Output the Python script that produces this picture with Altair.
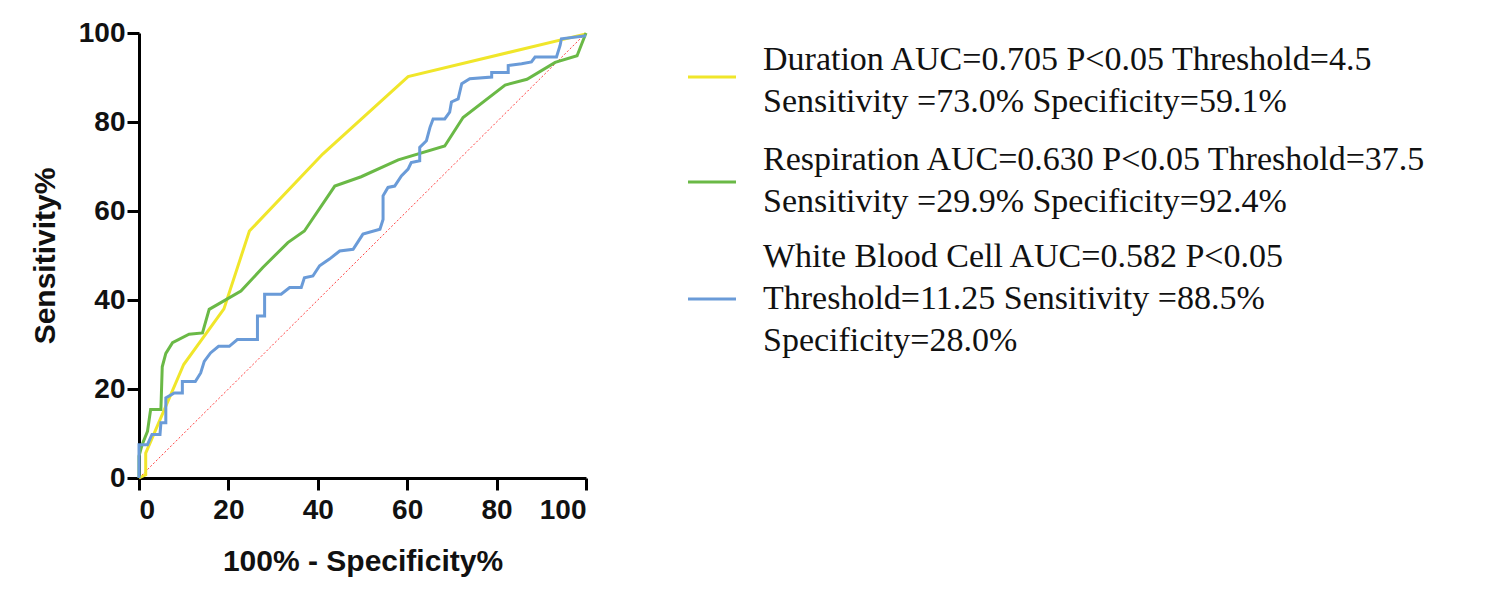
import altair as alt
import pandas as pd

# ROC curve points (100% - specificity, sensitivity)
dur_x = [0, 1.5, 1.5, 10, 19, 24.7, 41.1, 60.2, 100]
dur_y = [0, 0.7, 5.6, 25.5, 38, 55.5, 72.8, 90.2, 99.8]

resp_x = [0, 0, 0.7, 1.9, 2.6, 4.9, 5.2, 6, 7.5, 11.2, 14.2, 15.7, 22.8, 27.7, 33.3, 37,
          43.8, 49.7, 58, 68.4, 72.5, 81.9, 86.8, 93.1, 98, 100]
resp_y = [0, 4.9, 7.5, 10.5, 15.4, 15.4, 25, 28, 30.4, 32.3, 32.6, 37.9, 42, 47.3, 52.9, 55.5,
          65.6, 67.7, 71.5, 74.6, 81, 88.3, 89.6, 93.4, 94.9, 100]

wbc_x = [0, 0, 1.9, 2.9, 4.7, 4.9, 6, 6, 7.9, 9.7, 9.7, 12.6, 13.8, 14.6, 16, 17.8, 20.2, 22,
         26.5, 26.5, 28.1, 28.1, 31.8, 33.7, 36.3, 37, 38.9, 40.4, 42.6, 44.9, 47.9, 50.1, 53.9,
         54.6, 54.6, 55.7, 57.2, 58.7, 60.2, 60.9, 62.8, 62.8, 64.3, 65.1, 65.8, 68.4, 69.5, 69.9,
         71.4, 72.2, 74, 78.9, 78.9, 82.6, 82.6, 85.6, 87.8, 88.6, 93.4, 94.2, 94.5, 100]
wbc_y = [0, 7.5, 7.5, 9.8, 9.8, 12.4, 12.4, 18, 19.1, 19.1, 21.7, 21.7, 23.6, 26.2, 28.1, 29.6,
         29.6, 31.1, 31.1, 36.4, 36.4, 41.3, 41.3, 42.8, 42.8, 45, 45.4, 47.7, 49.2, 51, 51.4, 54.8,
         55.9, 58.1, 63.4, 65.3, 65.6, 67.9, 69.4, 70.9, 71.3, 74.3, 75.8, 78.8, 80.7, 80.7, 82.2,
         84.5, 85.2, 88.6, 89.7, 90.1, 91.1, 91.1, 92.7, 93.1, 93.5, 94.6, 94.6, 97.2, 98.7, 99.4]

series = ["Duration", "Respiration", "White Blood Cell"]
colors = ["#f0e62a", "#6ab946", "#6a9bd8"]
legend_text = [
    "Duration AUC=0.705 P<0.05 Threshold=4.5\nSensitivity =73.0% Specificity=59.1%",
    "Respiration AUC=0.630 P<0.05 Threshold=37.5\nSensitivity =29.9% Specificity=92.4%",
    "White Blood Cell AUC=0.582 P<0.05\n Threshold=11.25 Sensitivity =88.5%\nSpecificity=28.0%",
]

rows = []
for name, xs, ys in zip(series, [dur_x, resp_x, wbc_x], [dur_y, resp_y, wbc_y]):
    for i, (a, b) in enumerate(zip(xs, ys)):
        rows.append({"series": name, "fpr": a, "tpr": b, "order": i})
df = pd.DataFrame(rows)

xsc = alt.Scale(domain=[0, 100], nice=False)
ysc = alt.Scale(domain=[0, 100], nice=False)

diag = alt.Chart(pd.DataFrame({"fpr": [0, 100], "tpr": [0, 100]})).mark_line(
    color="#ff4040", strokeDash=[2, 2], strokeWidth=1
).encode(x=alt.X("fpr:Q", scale=xsc), y=alt.Y("tpr:Q", scale=ysc))

curves = alt.Chart(df).mark_line(strokeWidth=3, interpolate="linear").encode(
    x=alt.X("fpr:Q", scale=xsc, title="100% - Specificity%",
            axis=alt.Axis(values=[0, 20, 40, 60, 80, 100], ticks=True)),
    y=alt.Y("tpr:Q", scale=ysc, title="Sensitivity%",
            axis=alt.Axis(values=[0, 20, 40, 60, 80, 100], ticks=True)),
    color=alt.Color("series:N", scale=alt.Scale(domain=series[::-1], range=colors[::-1]), legend=None),
    order="order:Q",
)

main = alt.layer(diag, curves).properties(width=447, height=445)

one = pd.DataFrame({"a": [0]})
legend_layers = []
line_y = [44, 149, 266]
text_y = [27, 127, 224]
for col, txt, ly, ty in zip(colors, legend_text, line_y, text_y):
    legend_layers.append(alt.Chart(one).mark_rule(color=col, strokeWidth=3).encode(
        x=alt.value(0), x2=alt.value(48), y=alt.value(ly)))
    legend_layers.append(alt.Chart(one).mark_text(
        align="left", baseline="middle", font="Liberation Serif", fontSize=34,
        lineHeight=42, color="#111", text=txt.split("\n")
    ).encode(x=alt.value(75), y=alt.value(ty)))
legend = alt.layer(*legend_layers).properties(width=700, height=445)

chart = alt.hconcat(main, legend, spacing=94).configure_view(stroke=None).configure_axis(
    domainColor="black", domainWidth=3, tickColor="black", tickWidth=3, tickSize=12,
    grid=False, labelFont="Liberation Sans", labelFontSize=28, labelFontWeight="bold",
    labelColor="#111", titleFont="Liberation Sans", titleFontSize=30, titleFontWeight="bold",
    titleColor="#111",
).configure_axisX(labelPadding=6, titlePadding=22).configure_axisY(titlePadding=18).properties(
    padding={"left": 22, "top": 11, "right": 5, "bottom": 5}
)

chart.save("out.html", embed_options={"renderer": "svg", "actions": False})
